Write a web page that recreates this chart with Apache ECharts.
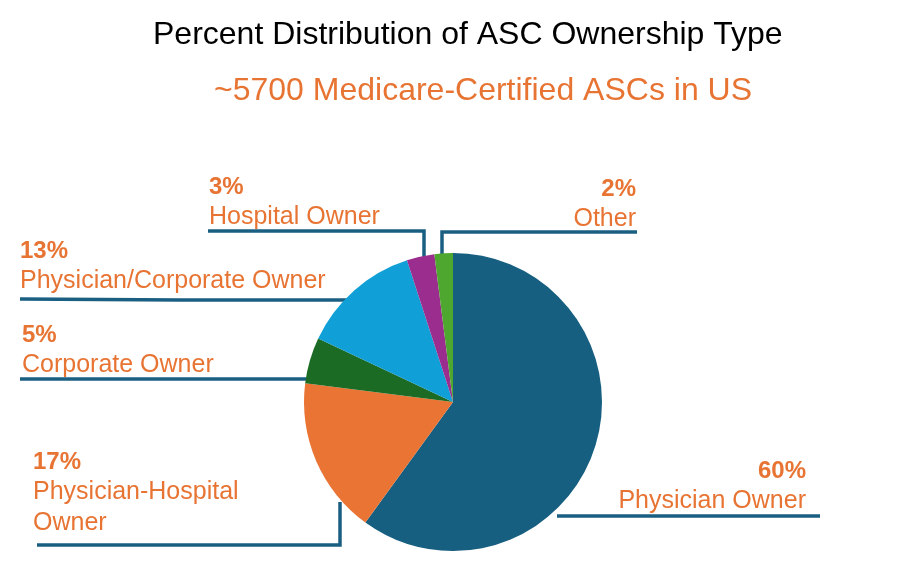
<!DOCTYPE html>
<html><head><meta charset="utf-8">
<script src="https://cdn.jsdelivr.net/npm/echarts@6/dist/echarts.min.js"></script>
<style>html,body{margin:0;padding:0;background:#fff}#c{width:919px;height:565px}</style>
</head><body><div id="c"></div>
<script>
// ---- data ----
const titleText = 'Percent Distribution of ASC Ownership Type';
const subtitleText = '~5700 Medicare-Certified ASCs in US';
const categories = ['Physician Owner', 'Physician-Hospital\nOwner', 'Corporate Owner', 'Physician/Corporate Owner', 'Hospital Owner', 'Other'];
const values = [60, 17, 5, 13, 3, 2];
const colors = ['#175f80', '#e97434', '#1b6b24', '#109fd6', '#9b2d8e', '#4ea72e'];

// ---- label layout (pixels) ----
const labelLayouts = [
  { x: 806, y: 456, align: 'right', line: [[557, 516], [690, 516], [820, 516]] },
  { x: 33,  y: 447, align: 'left',  line: [[340, 502], [340, 545], [37, 545]] },
  { x: 22,  y: 320, align: 'left',  line: [[308, 379], [160, 379], [20, 379]] },
  { x: 20,  y: 236, align: 'left',  line: [[349, 300], [180, 300], [20, 299]] },
  { x: 209, y: 172, align: 'left',  line: [[424, 258], [424, 231], [208, 231]] },
  { x: 636, y: 174, align: 'right', line: [[442, 257], [442, 232], [637, 232]] }
];

const FONT = 'Liberation Sans, Arial, sans-serif';
const ORANGE = '#e87433';
const LINE = '#1a5f82';

const chart = echarts.init(document.getElementById('c'), null, { renderer: 'canvas' });
chart.setOption({
  backgroundColor: '#fff',
  animation: false,
  title: [
    { text: titleText, left: 148, top: 14,
      textStyle: { fontFamily: FONT, fontSize: 32, fontWeight: 'normal', color: '#000' } },
    { text: subtitleText, left: 209, top: 70,
      textStyle: { fontFamily: FONT, fontSize: 32, fontWeight: 'normal', color: ORANGE } }
  ],
  series: [{
    type: 'pie',
    center: [453, 402],
    radius: 149,
    startAngle: 90,
    clockwise: true,
    avoidLabelOverlap: false,
    color: colors,
    itemStyle: { borderWidth: 0 },
    data: categories.map((c, i) => ({ name: c, value: values[i] })),
    label: {
      show: true,
      position: 'outside',
      fontFamily: FONT,
      formatter: p => '{p|' + p.value + '%}\n' + p.name.split('\n').map(s => '{n|' + s + '}').join('\n'),
      rich: {
        p: { fontFamily: FONT, fontSize: 24, fontWeight: 'bold', lineHeight: 30, color: ORANGE },
        n: { fontFamily: FONT, fontSize: 25, lineHeight: 31, color: ORANGE }
      }
    },
    labelLine: { show: true, smooth: false, lineStyle: { color: LINE, width: 3.5 } },
    labelLayout: params => {
      const L = labelLayouts[params.dataIndex];
      return { x: L.x, y: L.y, align: L.align, verticalAlign: 'top', labelLinePoints: L.line };
    },
    emphasis: { disabled: true }
  }]
});
</script></body></html>
